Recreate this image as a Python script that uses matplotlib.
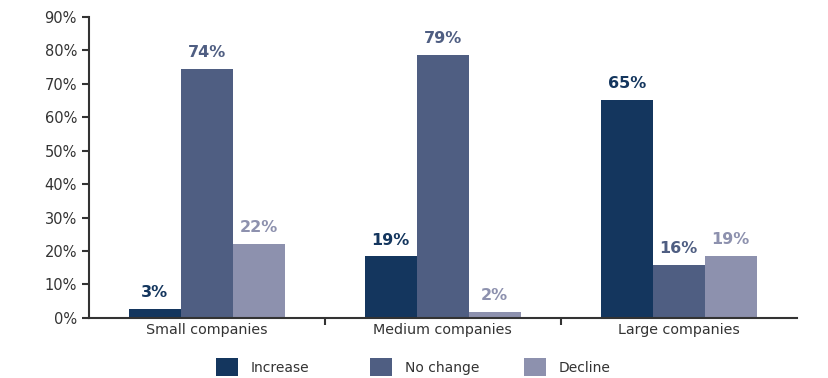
import numpy as np
import matplotlib.pyplot as plt
from matplotlib.ticker import PercentFormatter

plt.rcParams['font.family'] = ['DejaVu Sans']

# Данные
categories = ['Small companies', 'Medium companies', 'Large companies']
series = ['Increase', 'No change', 'Decline']
increase = [2.7, 18.4, 65.3]
no_change = [74.4, 78.7, 15.9]
decline = [22.2, 1.8, 18.5]
increase_labels = ['3%', '19%', '65%']
no_change_labels = ['74%', '79%', '16%']
decline_labels = ['22%', '2%', '19%']

colors = ['#14365e', '#4f5e82', '#8d91ae']

fig = plt.figure(figsize=(8.29, 3.78), dpi=100)
ax = fig.add_axes([0.107, 0.159, 0.854, 0.796])

x = np.arange(len(categories))
width = 0.22
values = [increase, no_change, decline]
labels = [increase_labels, no_change_labels, decline_labels]

handles = []
for i, (vals, labs) in enumerate(zip(values, labels)):
    bars = ax.bar(x + (i - 1) * width, vals, width, color=colors[i], label=series[i])
    handles.append(bars)
    for b, lab in zip(bars, labs):
        ax.text(b.get_x() + b.get_width() / 2, b.get_height() + 2.6, lab,
                ha='center', va='bottom', fontsize=11.5, fontweight='bold', color=colors[i])

ax.set_xlim(-0.5, 2.5)
ax.set_ylim(0, 90)
ax.set_yticks(np.arange(0, 91, 10))
ax.yaxis.set_major_formatter(PercentFormatter(decimals=0))

# Деления оси X между категориями, подписи по центру
ax.set_xticks([0.5, 1.5])
ax.set_xticklabels([])
ax.set_xticks(x, minor=True)
ax.set_xticklabels(categories, minor=True)
ax.tick_params(axis='x', which='minor', length=0, pad=4)
ax.tick_params(axis='x', which='major', length=5, width=1.5, color='#333333')
ax.tick_params(axis='y', length=5, width=1.5, color='#333333')
ax.tick_params(labelsize=10.5, labelcolor='#333333')
for lbl in ax.get_xticklabels(minor=True):
    lbl.set_fontsize(10.3)
    lbl.set_color('#333333')

for s in ['top', 'right']:
    ax.spines[s].set_visible(False)
for s in ['left', 'bottom']:
    ax.spines[s].set_linewidth(1.5)
    ax.spines[s].set_color('#333333')

# Легенда: три колонки одинаковой ширины
for i, h in enumerate(handles):
    leg = fig.legend([h], [series[i]], loc='center left',
                     bbox_to_anchor=((216 + 154 * i) / 829, 0.028),
                     frameon=False, fontsize=10, handlelength=1.6, handleheight=1.6,
                     handletextpad=0.9, borderpad=0, borderaxespad=0)
    leg.get_texts()[0].set_color('#333333')

fig.savefig('out.png', dpi=100)
